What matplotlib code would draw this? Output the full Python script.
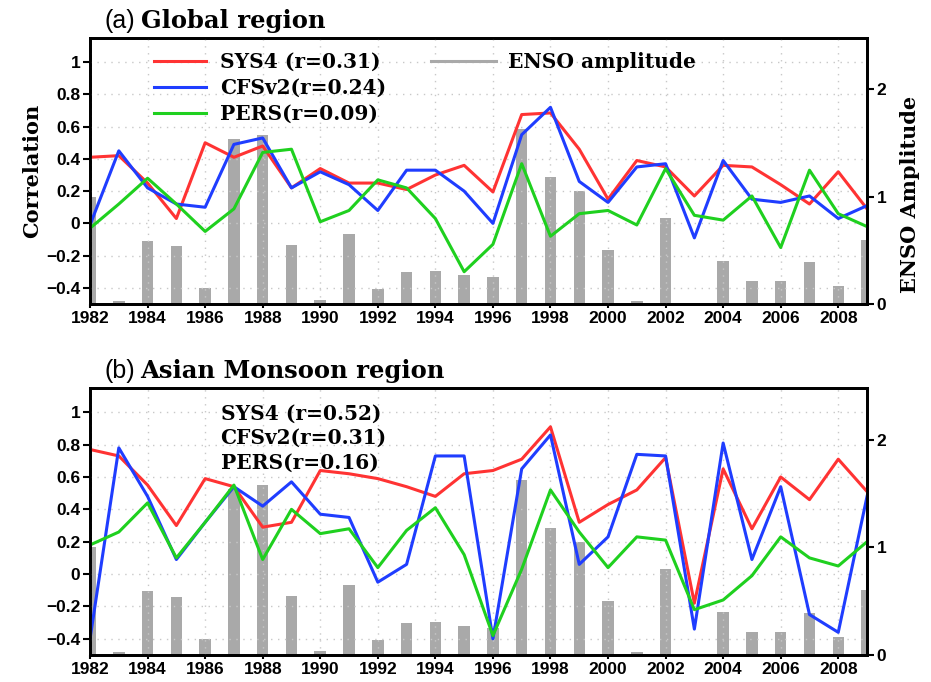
import numpy as np
import matplotlib
matplotlib.use('Agg')
from matplotlib import pyplot as plt
from matplotlib.lines import Line2D

years = np.arange(1982, 2010)

# ENSO amplitude (right axis), same in both panels
enso = [1.00, 0.03, 0.59, 0.54, 0.15, 1.54, 1.58, 0.55, 0.04, 0.65,
        0.14, 0.30, 0.31, 0.27, 0.25, 1.63, 1.18, 1.05, 0.50, 0.03,
        0.80, 0.00, 0.40, 0.21, 0.21, 0.39, 0.17, 0.60]

# (a) Global region
sys4_a = [0.41, 0.42, 0.25, 0.03, 0.50, 0.41, 0.48, 0.22, 0.34, 0.25,
          0.25, 0.21, 0.30, 0.36, 0.195, 0.675, 0.685, 0.46, 0.15, 0.39,
          0.35, 0.17, 0.36, 0.35, 0.24, 0.12, 0.32, 0.09]
cfs_a = [-0.01, 0.45, 0.22, 0.12, 0.10, 0.49, 0.53, 0.22, 0.32, 0.24,
         0.08, 0.33, 0.33, 0.20, 0.00, 0.55, 0.72, 0.26, 0.13, 0.35,
         0.37, -0.09, 0.39, 0.15, 0.13, 0.17, 0.03, 0.11]
pers_a = [-0.03, 0.12, 0.28, 0.12, -0.05, 0.09, 0.44, 0.46, 0.01, 0.08,
          0.27, 0.22, 0.03, -0.30, -0.13, 0.37, -0.08, 0.06, 0.08, -0.01,
          0.34, 0.05, 0.02, 0.17, -0.15, 0.33, 0.06, -0.02]

# (b) Asian Monsoon region
sys4_b = [0.77, 0.73, 0.55, 0.30, 0.59, 0.54, 0.29, 0.32, 0.64, 0.62,
          0.59, 0.54, 0.48, 0.62, 0.64, 0.71, 0.91, 0.32, 0.43, 0.52,
          0.72, -0.18, 0.65, 0.28, 0.60, 0.46, 0.71, 0.51]
cfs_b = [-0.40, 0.78, 0.48, 0.09, 0.32, 0.54, 0.42, 0.57, 0.37, 0.35,
         -0.05, 0.06, 0.73, 0.73, -0.40, 0.65, 0.86, 0.06, 0.23, 0.74,
         0.73, -0.34, 0.81, 0.09, 0.54, -0.25, -0.36, 0.48]
pers_b = [0.18, 0.26, 0.44, 0.10, 0.32, 0.55, 0.09, 0.40, 0.25, 0.28,
          0.04, 0.27, 0.41, 0.12, -0.38, 0.03, 0.52, 0.26, 0.04, 0.23,
          0.21, -0.22, -0.16, -0.01, 0.23, 0.10, 0.05, 0.20]

labels_a = ['SYS4 (r=0.31)', 'CFSv2(r=0.24)', 'PERS(r=0.09)']
labels_b = ['SYS4 (r=0.52)', 'CFSv2(r=0.31)', 'PERS(r=0.16)']

red, blue, green, grey = '#ff3333', '#1f3dff', '#1fd01f', '#a9a9a9'
tickfont = {'family': 'Liberation Sans', 'weight': 'bold', 'size': 12.5}
serif = 'DejaVu Serif'
sprop = {'family': serif, 'size': 14.5, 'weight': 'bold'}
lprop = {'family': serif, 'size': 15, 'weight': 'bold'}

fig = plt.figure(figsize=(9.31, 6.82), dpi=100)
axa = fig.add_axes([0.0967, 0.5543, 0.8346, 0.390])
axb = fig.add_axes([0.0967, 0.0396, 0.8346, 0.3915])


def panel(ax, s, c, p, tag, title):
    tw = ax.twinx()
    tw.bar(years, enso, width=0.4, color=grey, zorder=1)
    tw.set_ylim(0, 2.48)
    tw.set_yticks([0, 1, 2])
    tw.set_yticklabels(['0', '1', '2'], fontdict=tickfont)
    ax.set_zorder(tw.get_zorder() + 1)
    ax.patch.set_visible(False)

    ax.plot(years, s, color=red, lw=2.2)
    ax.plot(years, c, color=blue, lw=2.2)
    ax.plot(years, p, color=green, lw=2.2)
    ax.set_xlim(1982, 2009)
    ax.set_ylim(-0.5, 1.15)
    yt = [-0.4, -0.2, 0, 0.2, 0.4, 0.6, 0.8, 1]
    ax.set_yticks(yt)
    ax.set_yticklabels(['\u22120.4', '\u22120.2', '0', '0.2', '0.4', '0.6', '0.8', '1'], fontdict=tickfont)
    xt = np.arange(1982, 2010, 2)
    ax.set_xticks(xt)
    ax.set_xticklabels([str(x) for x in xt], fontdict=tickfont)
    ax.grid(True, ls=(0, (1, 4)), color='#c8c8c8', lw=1)
    for a in (ax, tw):
        for sp in a.spines.values():
            sp.set_linewidth(2)
        a.tick_params(width=1.5, length=5, pad=2)
    ax.tick_params(axis='x', length=3)
    ax.text(0.018, 1.02, tag, transform=ax.transAxes, fontsize=18,
            family='Liberation Sans', ha='left', va='bottom')
    ax.text(0.065, 1.02, title, transform=ax.transAxes, fontsize=17.5,
            family=serif, weight='bold', ha='left', va='bottom')
    return tw


twa = panel(axa, sys4_a, cfs_a, pers_a, '(a)', 'Global region')
twb = panel(axb, sys4_b, cfs_b, pers_b, '(b)', 'Asian Monsoon region')

axa.set_ylabel('Correlation', fontdict=lprop, labelpad=3)
fig.text(910 / 931, 1 - 194 / 682, 'ENSO Amplitude', fontdict=lprop,
         rotation=90, ha='center', va='center')

# legend of panel (a)
leg1 = axa.legend(axa.lines, labels_a, loc='upper left', bbox_to_anchor=(0.068, 0.99),
                  frameon=False, prop=sprop,
                  handlelength=2.6, handletextpad=0.7, labelspacing=0.3,
                  borderaxespad=0.15)
axa.add_artist(leg1)
axa.legend([Line2D([], [], color=grey, lw=2.2)], ['ENSO amplitude'], loc='upper left',
           bbox_to_anchor=(0.425, 0.99), frameon=False, prop=sprop,
           handlelength=3.2, handletextpad=0.6, borderaxespad=0.15)

# text list of panel (b)
for i, lab in enumerate(labels_b):
    axb.text(0.168, 0.905 - i * 0.093, lab, transform=axb.transAxes,
             fontdict=sprop, va='center', ha='left')

fig.savefig('out.png', dpi=100)
